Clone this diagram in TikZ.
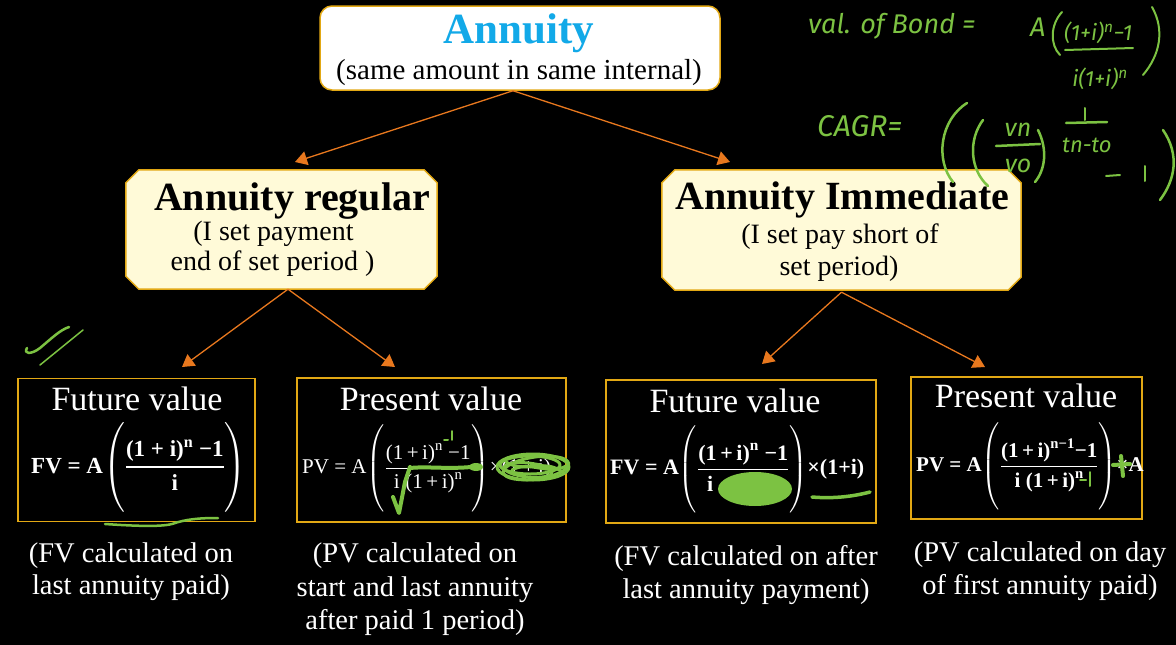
\documentclass[tikz,border=0pt]{standalone}
\usepackage{amsmath}
\usepackage{fontspec}
\setmainfont{Liberation Serif}
\newfontfamily\handfont{Fira Sans}
\usetikzlibrary{arrows.meta}
\definecolor{arrowor}{HTML}{E8781E}
\definecolor{boxgold}{HTML}{E2A814}
\definecolor{paleyel}{HTML}{FFFAD8}
\definecolor{skyblue}{HTML}{12A9E8}
\definecolor{penGreen}{HTML}{7CC242}
\newcommand{\tallstrut}{\rule[-38pt]{0pt}{88pt}}
\newcommand{\fsz}[2]{\fontsize{#1}{#2}\selectfont}
\newcommand{\opi}{\text{(1\,+\,i)}}
\newcommand{\octobox}[1]{\filldraw[draw=boxgold, fill=paleyel, line width=1.5pt]
  ([xshift=13pt]#1.north west) -- ([xshift=-13pt]#1.north east) -- ([yshift=-13pt]#1.north east)
  -- ([yshift=13pt]#1.south east) -- ([xshift=-13pt]#1.south east) -- ([xshift=13pt]#1.south west)
  -- ([yshift=13pt]#1.south west) -- ([yshift=-13pt]#1.north west) -- cycle;}
\begin{document}
\begin{tikzpicture}[x=1pt,y=-1pt,
  conn/.style={draw=arrowor, line width=1.3pt, -{Triangle[width=14pt,length=12pt]}},
  topbox/.style={draw=boxgold, line width=1.5pt, fill=white, rounded corners=12pt, minimum width=400pt, minimum height=84pt, inner sep=0pt},
  midframe/.style={draw=none, inner sep=0pt},
  fbox/.style={draw=boxgold, line width=1.5pt, fill=black, inner sep=0pt},
  ttl/.style={anchor=base, text=white, font=\fsz{34}{34}},
  captxt/.style={anchor=base, text=white, font=\fsz{28.5}{28.5}},
  formula/.style={anchor=west, text=white, inner sep=0pt, font=\fsz{22}{22}\bfseries},
  pen/.style={draw=penGreen, line width=2.5pt, line cap=round, line join=round},
  hand/.style={text=penGreen, inner sep=0pt, font=\handfont\itshape\fsz{25}{25}}
]
\fill[black] (0,0) rectangle (1176,645);
\useasboundingbox (0,0) rectangle (1176,645);

% top box
\node[topbox] (top) at (520,48) {};
\node[anchor=base, text=skyblue, font=\fsz{43}{43}\bfseries] (toptitle) at (519,43) {Annuity};
\node[anchor=base, font=\fsz{29}{29}] (topsub) at (519,79) {(same amount in same internal)};

% middle boxes
\node[midframe, minimum width=311pt, minimum height=119pt] (reg) at (281.5,229.5) {};
\octobox{reg}
\node[anchor=base, font=\fsz{40}{40}\bfseries] (regtitle) at (292,210) {Annuity regular};
\node[anchor=base, font=\fsz{28}{28}] (regsub1) at (273.5,240) {(I set payment};
\node[anchor=base, font=\fsz{28}{28}] (regsub2) at (272.5,270) {end of set period )};

\node[midframe, minimum width=359pt, minimum height=120pt] (imm) at (841.5,230) {};
\octobox{imm}
\node[anchor=base, font=\fsz{40}{40}\bfseries] (immtitle) at (842.5,209) {Annuity Immediate};
\node[anchor=base, font=\fsz{28}{28}] (immsub1) at (840,243) {(I set pay short of};
\node[anchor=base, font=\fsz{28}{28}] (immsub2) at (839,275) {set period)};

% arrow end points
\coordinate (t1) at (295,162);
\coordinate (t2) at (730,162);
\coordinate (t3) at (182,367);
\coordinate (t4) at (395,367);
\coordinate (t5) at (762,364);
\coordinate (t6) at (985,367);
\draw[conn] ([xshift=-7pt]top.south) -- (t1);
\draw[conn] ([xshift=-7pt]top.south) -- (t2);
\draw[conn] ([xshift=6.5pt]reg.south) -- (t3);
\draw[conn] ([xshift=6.5pt]reg.south) -- (t4);
\draw[conn] ([yshift=-2pt]imm.south) -- (t5);
\draw[conn] ([yshift=-2pt]imm.south) -- (t6);

% bottom boxes
\node[fbox, minimum width=237pt, minimum height=143pt] (b1) at (136.5,450) {};
\node[fbox, minimum width=269pt, minimum height=144pt] (b2) at (431.5,450) {};
\node[fbox, minimum width=270pt, minimum height=143pt] (b3) at (741,451.5) {};
\node[fbox, minimum width=231pt, minimum height=142pt] (b4) at (1026.5,448) {};

\node[ttl] (b1t) at (137,410) {Future value};
\node[ttl] (b2t) at (431,410) {Present value};
\node[ttl] (b3t) at (735,412) {Future value};
\node[ttl] (b4t) at (1026,407) {Present value};

\node[formula, font=\fsz{23}{23}\bfseries] (f1) at (31,467) {FV = A$\left(\tallstrut\genfrac{}{}{1.3pt}{0}{\text{(1 + i)}^{\text{n}}\text{ −1}}{\text{i}}\right)$};
\node[formula, font=\fsz{21}{21}] (f2) at (302,468) {PV = A$\left(\tallstrut\genfrac{}{}{1pt}{0}{\opi^{\text{n}}\text{ −1}}{\text{i}\;\opi^{\text{n}}}\right)$×\opi};
\node[formula] (f3) at (610,469) {FV = A$\left(\tallstrut\genfrac{}{}{1.3pt}{0}{\opi^{\text{n}}\text{ −1}}{\text{i}\phantom{\text{ }\opi^{\text{n}}}}\right)$×(1+i)};
\node[formula, font=\fsz{21}{21}\bfseries] (f4) at (916,466) {PV = A$\left(\tallstrut\genfrac{}{}{1.3pt}{0}{\opi^{\text{n−1}}\text{−1}}{\text{i }\opi^{\text{n}}}\right)$×A};

% captions
\node[captxt] (c1a) at (131,562) {(FV calculated on};
\node[captxt] (c1b) at (131,594) {last annuity paid)};
\node[captxt] (c2a) at (415,562) {(PV calculated on};
\node[captxt] (c2b) at (415,596) {start and last annuity};
\node[captxt] (c2c) at (415,629) {after paid 1 period)};
\node[captxt] (c3a) at (746,565) {(FV calculated on after};
\node[captxt] (c3b) at (746,598) {last annuity payment)};
\node[captxt] (c4a) at (1040,561) {(PV calculated on day};
\node[captxt] (c4b) at (1040,594) {of first annuity paid)};

% green pen marks in boxes
\draw[pen] (105,524) .. controls (135,526) and (160,527) .. (172,524) .. controls (186,519) and (200,518) .. (218,518);
\draw[pen, line width=2pt] (444,440) -- (448,440);
\draw[pen, line width=1.8pt] (452,431) -- (452,440);
\draw[pen, line width=4pt] (410,468) .. controls (430,466) and (450,470) .. (480,466);
\fill[penGreen] (476,467) ellipse [x radius=7, y radius=4];
\draw[pen, line width=4pt] (393,497) -- (399,513) -- (405,482) -- (410,467);
\draw[pen, line width=3pt] (533,467) ellipse [x radius=36, y radius=13];
\draw[pen, line width=3pt] (530,465) ellipse [x radius=30, y radius=9];
\draw[pen, line width=3pt, rotate around={8:(536,468)}] (536,468) ellipse [x radius=33, y radius=11];
\draw[pen, line width=3pt, rotate around={-6:(528,470)}] (528,470) ellipse [x radius=24, y radius=7];
\draw[pen, line width=3pt] (512,470) .. controls (530,460) and (548,476) .. (566,466);
\draw[pen, line width=3pt] (506,462) .. controls (525,474) and (545,458) .. (562,472);
\fill[penGreen] (755,489) ellipse [x radius=37, y radius=17];
\draw[pen, line width=3.5pt] (812,497) .. controls (835,499) and (855,496) .. (870,492);
\draw[pen, line width=4pt] ([xshift=-31pt,yshift=1pt]f4.east) -- ([xshift=-14pt,yshift=2pt]f4.east);
\draw[pen, line width=4pt] ([xshift=-23pt,yshift=10pt]f4.east) -- ([xshift=-21pt,yshift=-10pt]f4.east);
\draw[pen, line width=2pt] (1080,480) -- (1086,480);
\draw[pen, line width=2pt] (1090,472) -- (1090,486);

% green marks on the left
\draw[pen, line width=2.5pt] (27,348) .. controls (23,354) and (31,355) .. (40,348) .. controls (52,338) and (60,330) .. (69,327);
\draw[pen, line width=1.5pt] (40,365) -- (83,330);

% green handwriting top right
\node[hand, anchor=base west, font=\handfont\itshape\fsz{27}{27}] (bond) at (808,33) {val. of Bond =};
\node[hand, anchor=base west, font=\handfont\itshape\fsz{27}{27}] (bondA) at (1030,36) {A};
\draw[pen, line width=2pt] (1062,12) .. controls (1050,25) and (1050,45) .. (1060,55);
\node[hand, anchor=base west, font=\handfont\itshape\fsz{22}{22}] (bondnum) at (1064,40) {(1+i)\textsuperscript{n}−1};
\draw[pen, line width=2pt] (1065,50) -- (1133,48);
\draw[pen, line width=2pt] (1152,7) .. controls (1165,30) and (1160,55) .. (1143,75);
\node[hand, anchor=base, font=\handfont\itshape\fsz{22}{22}] (bondden) at (1100,86) {i(1+i)\textsuperscript{n}};

\node[hand, anchor=base west, font=\handfont\itshape\fsz{30}{30}] (cagr) at (817,136) {CAGR=};
\draw[pen] (967,103) .. controls (940,120) and (935,160) .. (953,182);
\draw[pen] (983,120) .. controls (968,140) and (970,170) .. (988,186);
\node[hand, anchor=base] (vn) at (1018,136) {vn};
\draw[pen] (996,146) -- (1040,144);
\node[hand, anchor=base] (v0) at (1018,172) {vo};
\draw[pen] (1038,130) .. controls (1048,150) and (1045,170) .. (1035,182);
\draw[pen, line width=2pt] (1085,108) -- (1085,120);
\draw[pen] (1066,123) -- (1107,122);
\node[hand, anchor=base west, font=\handfont\itshape\fsz{22}{22}] (tn) at (1062,152) {tn-to};
\draw[pen, line width=2pt] (1106,176) -- (1120,175);
\draw[pen, line width=2pt] (1145,166) -- (1145,181);
\draw[pen] (1163,130) .. controls (1180,155) and (1175,180) .. (1160,200);
\end{tikzpicture}
\end{document}
